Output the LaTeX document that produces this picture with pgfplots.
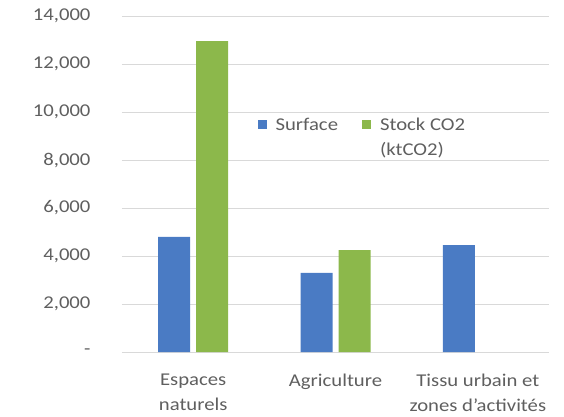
\documentclass[border=0pt]{standalone}
\usepackage{pgfplots}
\pgfplotsset{compat=1.18}
\usepackage{fontspec}
\setmainfont{Carlito}[FakeStretch=1.15]
\definecolor{barblue}{HTML}{4A7BC4}
\definecolor{bargreen}{HTML}{8CB84B}
\definecolor{gridgray}{HTML}{D9D9D9}
\definecolor{txtgray}{HTML}{5F5F5F}
% two-line legend entry whose baseline is its first line
\newcommand{\stockentry}{\vtop{\halign{##\hfil\cr Stock CO2\cr (ktCO2)\cr}}}

\begin{document}
\begin{tikzpicture}
\begin{axis}[
  scale only axis,
  width=427pt, height=336pt,
  ybar=6pt, bar width=32pt,
  xmin=-0.5, xmax=2.5,
  ymin=0, ymax=14000,
  scaled y ticks=false,
  xtick={0,1,2},
  xticklabels={{Espaces\\naturels},{Agriculture},{Tissu urbain et\\zones d'activités}},
  ytick={0,2000,4000,6000,8000,10000,12000,14000},
  yticklabels={{-},{2,000},{4,000},{6,000},{8,000},{10,000},{12,000},{14,000}},
  major tick length=0pt,
  axis line style={draw=none},
  ymajorgrids,
  major grid style={gridgray, line width=1pt},
  tick label style={font=\fontsize{18}{25}\selectfont, text=txtgray},
  xticklabel style={align=center, anchor=north, yshift=-18pt},
  yticklabel style={anchor=east, xshift=-28pt},
  /pgf/number format/assume math mode=true,
  legend columns=2,
  legend style={at={(0.31,0.709)}, anchor=north west, draw=none, fill=none,
    font=\fontsize{18}{25}\selectfont, text=txtgray,
    /tikz/every odd column/.append style={column sep=7pt},
    /tikz/every even column/.append style={column sep=22pt}},
  legend image code/.code={\fill[#1] (0pt,-4.5pt) rectangle (9pt,4.5pt);},
]
\addplot[fill=barblue, draw=none] coordinates {(0,4800) (1,3300) (2,4450)};
\addplot[fill=bargreen, draw=none] coordinates {(0,12950) (1,4250)};
\legend{Surface, \stockentry}
\end{axis}
\path (-122pt,-64pt) rectangle (442pt,352pt);
\end{tikzpicture}
\end{document}
